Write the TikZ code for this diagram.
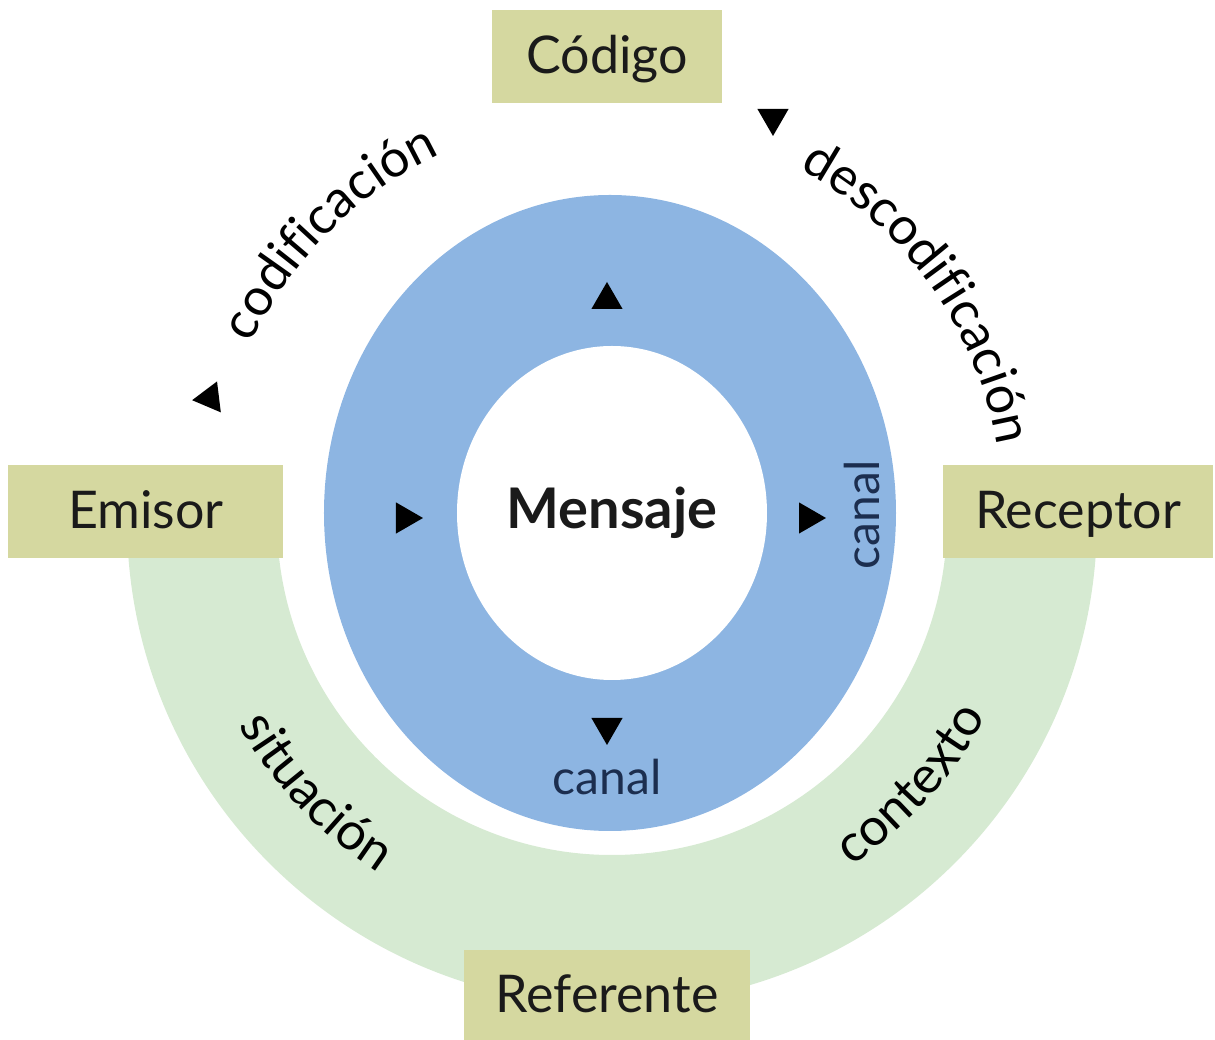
\documentclass[tikz,border=0pt]{standalone}
\usepackage{fontspec}
\setmainfont{Lato}
\usetikzlibrary{shapes.geometric,decorations.text}

\definecolor{boxolive}{RGB}{213,216,160}
\definecolor{bandgreen}{RGB}{214,234,210}
\definecolor{ringblue}{RGB}{141,181,226}
\definecolor{canalnavy}{RGB}{28,46,79}
\definecolor{textdark}{RGB}{26,26,26}

\newcommand{\lbl}{\fontsize{52}{62}\selectfont}

\begin{document}
\begin{tikzpicture}
  [x=1pt,y=1pt,
   box/.style={fill=boxolive,text=textdark,font=\lbl,inner sep=0pt,text height=34pt,text depth=0pt},
   tri/.style={regular polygon,regular polygon sides=3,fill=black,minimum size=36pt,inner sep=0pt},
   arclabel/.style={decorate,decoration={text along path,text align=center,text={|\lbl|#1}}}]
  \useasboundingbox (-610,-527) rectangle (605,513);

  % green half ring
  \fill[bandgreen] (-483,-7) arc[start angle=180,end angle=360,radius=485]
    -- (337,-7) arc[start angle=0,end angle=-180,radius=335] -- cycle;

  % blue ring and message
  \node[ellipse,fill=ringblue,minimum width=572pt,minimum height=636pt,inner sep=0pt] (canalring) at (0,0) {};
  \node[ellipse,fill=white,minimum width=310pt,minimum height=334pt,inner sep=0pt,
        text=textdark,font=\bfseries\fontsize{56}{66}\selectfont] (mensaje) at (2,0) {Mensaje};

  \node[text=canalnavy,font=\fontsize{48}{58}\selectfont] (canalbottom) at (-3,-264) {canal};
  \node[text=canalnavy,font=\fontsize{48}{58}\selectfont,rotate=90] (canalright) at (252,-2) {canal};

  % boxes
  \node[box,minimum width=229pt,minimum height=93pt] (codigo) at (-3,456) {Código};
  \node[box,minimum width=275pt,minimum height=93pt] (emisor) at (-464,1) {Emisor};
  \node[box,minimum width=270pt,minimum height=93pt] (receptor) at (468,1) {Receptor};
  \node[box,minimum width=285pt,minimum height=90pt] (referente) at (-3,-482) {Referente};

  % arrowheads
  \node[tri] (uptri) at (-3,213) {};
  \node[tri,rotate=-90] (lefttri) at (-205,-5) {};
  \node[tri,rotate=-90] (righttri) at (198,-5) {};
  \node[tri,rotate=180] (downtri) at (-3,-214) {};
  \node[tri,rotate=97] (codtri) at (-400,115) {};
  \node[tri,rotate=180] (dectri) at (163,395) {};

  % curved labels
  \path[arclabel=codificación] (170:397) arc[start angle=170,end angle=100,radius=397];
  \path[arclabel=descodificación] (80:393) arc[start angle=80,end angle=-9,radius=393];
  \path[arclabel=situación] (190:428) arc[start angle=190,end angle=257,radius=428];
  \path[arclabel=contexto] (285:428) arc[start angle=285,end angle=351,radius=428];
\end{tikzpicture}
\end{document}
